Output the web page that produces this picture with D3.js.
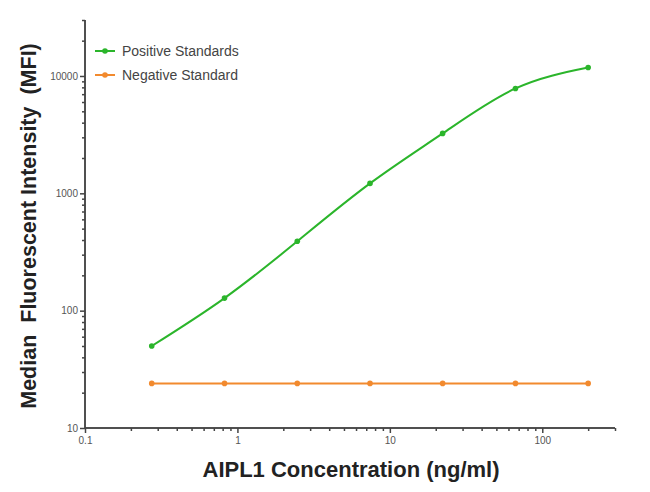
<!DOCTYPE html>
<html>
<head>
<meta charset="utf-8">
<script src="https://cdn.jsdelivr.net/npm/d3@7"></script>
<style>
  body { margin: 0; background: #fff; }
  svg { display: block; font-family: "Liberation Sans", Arial, sans-serif; }
</style>
</head>
<body>
<svg width="650" height="492"></svg>
<script>
// 3-fold serial dilution of the standard (ng/ml)
const concentrations = [0.274, 0.823, 2.47, 7.41, 22.2, 66.7, 200];
const positiveMFI = [50, 128, 390, 1215, 3240, 7830, 11800];
const negativeMFI = [24, 24, 24, 24, 24, 24, 24];
const yTickValues = [10, 100, 1000, 10000];
const xTickValues = [0.1, 1, 10, 100];

const svg = d3.select("svg");
const margin = { left: 85, right: 35, top: 20, bottom: 64 };
const width = 650, height = 492;

const x = d3.scaleLog().domain([0.1, 300]).range([margin.left, width - margin.right]);
const y = d3.scaleLog().domain([10, 30000]).range([height - margin.bottom, margin.top]);

const green = "#2bb52b";
const orange = "#f28a2e";

// minor ticks
const yMinor = [];
for (let d = 10; d <= 10000; d *= 10)
  for (let k = 2; k <= 9; k++) if (d * k <= 30000) yMinor.push(d * k);
const xMinor = [];
for (let d = 0.1; d <= 100; d *= 10)
  for (let k = 2; k <= 9; k++) if (d * k <= 300) xMinor.push(+(d * k).toPrecision(3));

const axisColor = "#444";

// y axis
const gy = svg.append("g").attr("transform", `translate(${margin.left},0)`);
gy.call(d3.axisLeft(y).tickValues(yTickValues).tickFormat(d3.format("d")).tickSize(5).tickPadding(2));
gy.append("g").call(d3.axisLeft(y).tickValues(yMinor).tickFormat("").tickSize(3));
gy.selectAll("path, line").attr("stroke", axisColor).attr("stroke-width", 1.5);
gy.selectAll(".domain").attr("d", `M0,${y.range()[1]}V${y.range()[0]}`);
gy.selectAll("text").attr("font-size", 10).attr("fill", "#555");

// x axis
const gx = svg.append("g").attr("transform", `translate(0,${height - margin.bottom})`);
gx.call(d3.axisBottom(x).tickValues(xTickValues).tickFormat(d => d).tickSize(5).tickPadding(4));
gx.append("g").call(d3.axisBottom(x).tickValues(xMinor).tickFormat("").tickSize(3));
gx.selectAll("path, line").attr("stroke", axisColor).attr("stroke-width", 1.5);
gx.selectAll(".domain").attr("d", `M${x.range()[0]},0H${x.range()[1]}`);
gx.selectAll("text").attr("font-size", 10).attr("fill", "#555");

// axis titles
svg.append("text")
  .attr("transform", "translate(36,226) rotate(-90)")
  .attr("text-anchor", "middle")
  .attr("font-size", 21.5).attr("font-weight", "bold").attr("fill", "#222")
  .attr("xml:space", "preserve")
  .text("Median  Fluorescent Intensity  (MFI)");

svg.append("text")
  .attr("x", 351).attr("y", 477)
  .attr("text-anchor", "middle")
  .attr("font-size", 22).attr("font-weight", "bold").attr("fill", "#222")
  .text("AIPL1 Concentration (ng/ml)");

// series
const series = [
  { name: "Positive Standards", values: positiveMFI, color: green, curve: d3.curveNatural },
  { name: "Negative Standard", values: negativeMFI, color: orange, curve: d3.curveLinear },
];

const line = d3.line().x(d => x(d[0])).y(d => y(d[1]));

series.forEach(s => {
  const pts = concentrations.map((c, i) => [c, s.values[i]]);
  svg.append("path")
    .datum(pts)
    .attr("fill", "none")
    .attr("stroke", s.color)
    .attr("stroke-width", 2)
    .attr("d", line.curve(s.curve));
  svg.append("g").selectAll("circle")
    .data(pts)
    .enter()
    .append("circle")
    .attr("cx", d => x(d[0]))
    .attr("cy", d => y(d[1]))
    .attr("r", 2.8)
    .attr("fill", s.color);
});

// legend
const legend = svg.append("g").attr("transform", "translate(95,51)");
series.forEach((s, i) => {
  const g = legend.append("g").attr("transform", `translate(0,${i * 24})`);
  g.append("line").attr("x1", 0).attr("x2", 20).attr("stroke", s.color).attr("stroke-width", 2);
  g.append("circle").attr("cx", 10).attr("r", 2.8).attr("fill", s.color);
  g.append("text").attr("x", 27).attr("dy", "0.35em")
    .attr("font-size", 14).attr("fill", "#444").text(s.name);
});
</script>
</body>
</html>
